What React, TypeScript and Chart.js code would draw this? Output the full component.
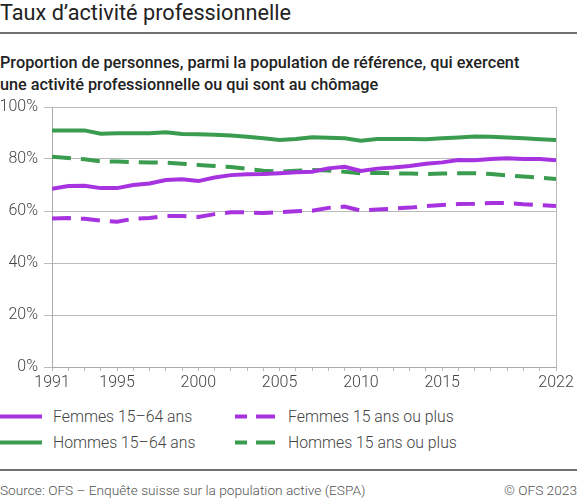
import React, { useEffect, useRef } from 'react'
import { Chart, registerables } from 'chart.js'

Chart.register(...registerables)
Chart.defaults.font.family = "Roboto, 'Noto Sans', sans-serif"

// years and values (percent)
const years = [1991, 1992, 1993, 1994, 1995, 1996, 1997, 1998, 1999, 2000, 2001, 2002, 2003, 2004, 2005, 2006,
    2007, 2008, 2009, 2010, 2011, 2012, 2013, 2014, 2015, 2016, 2017, 2018, 2019, 2020, 2021, 2022]
const labelYears = [1991, 1995, 2000, 2005, 2010, 2015, 2022]

const femmes1564 = [68.5, 69.6, 69.7, 68.8, 68.8, 70.0, 70.6, 71.9, 72.2, 71.5, 72.9, 73.8, 74.1, 74.2, 74.5, 74.9,
    75.1, 76.4, 77.0, 75.4, 76.3, 76.7, 77.3, 78.2, 78.7, 79.6, 79.5, 80.0, 80.3, 80.0, 80.0, 79.5]
const hommes1564 = [91.0, 91.0, 91.0, 89.7, 89.9, 89.9, 89.9, 90.3, 89.6, 89.5, 89.3, 89.0, 88.6, 88.0, 87.3, 87.7,
    88.4, 88.2, 88.0, 87.0, 87.7, 87.7, 87.7, 87.6, 88.0, 88.3, 88.7, 88.6, 88.3, 88.0, 87.6, 87.3]
const femmes15plus = [57.1, 57.3, 57.0, 56.3, 55.9, 57.0, 57.3, 58.1, 58.1, 57.7, 58.8, 59.5, 59.5, 59.2, 59.5, 59.9,
    60.1, 61.2, 61.7, 60.1, 60.6, 60.9, 61.3, 61.9, 62.3, 62.7, 62.8, 63.1, 63.1, 62.6, 62.3, 61.9]
const hommes15plus = [80.9, 80.4, 79.9, 79.1, 79.0, 78.8, 78.7, 78.6, 78.2, 77.7, 77.3, 76.9, 76.2, 75.5, 75.1, 75.5,
    75.8, 75.6, 75.1, 74.5, 74.7, 74.5, 74.4, 74.2, 74.4, 74.5, 74.5, 74.2, 73.7, 73.3, 72.8, 72.3]

const yTicks = [0, 20, 40, 60, 80, 100]

const PURPLE = '#a633df'
const GREEN = '#3a9c4e'
const DASH = [19, 10]

const toPoints = (vals: number[]) => years.map((yr, i) => ({ x: yr, y: vals[i] }))

const series = [
    { label: 'Femmes 15–64 ans', data: femmes1564, color: PURPLE, dashed: false },
    { label: 'Femmes 15 ans ou plus', data: femmes15plus, color: PURPLE, dashed: true },
    { label: 'Hommes 15–64 ans', data: hommes1564, color: GREEN, dashed: false },
    { label: 'Hommes 15 ans ou plus', data: hommes15plus, color: GREEN, dashed: true },
]

const LegendItem = ({ s }: { s: any }) => (
    <div style={{ display: 'flex', alignItems: 'center', height: 26 }}>
        <svg width={42} height={5} style={{ display: 'block' }}>
            <line x1={0} y1={2.5} x2={42} y2={2.5} stroke={s.color} strokeWidth={4}
                strokeDasharray={s.dashed ? '19 9' : undefined} strokeDashoffset={s.dashed ? 7 : undefined} />
        </svg>
        <span style={{ marginLeft: 11, fontSize: 15.8, fontWeight: 300, color: '#444' }}>{s.label}</span>
    </div>
)

const App: React.FunctionComponent = () => {
    const chartRef = useRef<HTMLCanvasElement>(null)

    useEffect(() => {
        const ctx = chartRef.current!.getContext('2d') as CanvasRenderingContext2D
        const chart = new Chart(ctx, {
            type: 'line',
            data: {
                datasets: series.map((s) => ({
                    label: s.label,
                    data: toPoints(s.data),
                    borderColor: s.color,
                    backgroundColor: s.color,
                    borderWidth: 4,
                    borderDash: s.dashed ? DASH : [],
                    borderCapStyle: 'butt',
                    pointRadius: 0,
                    tension: 0,
                })),
            },
            options: {
                animation: false,
                responsive: true,
                maintainAspectRatio: false,
                layout: { padding: { top: 17, right: 21, left: 0, bottom: 0 } },
                plugins: {
                    legend: { display: false },
                    tooltip: { enabled: false },
                },
                scales: {
                    x: {
                        type: 'linear',
                        min: 1991,
                        max: 2022,
                        afterBuildTicks: (scale: any) => {
                            scale.ticks = years.map((v) => ({ value: v }))
                        },
                        afterFit: (scale: any) => {
                            scale.height = 33
                        },
                        ticks: {
                            autoSkip: false,
                            maxRotation: 0,
                            padding: 2,
                            color: '#444',
                            font: { size: 16, weight: 300 },
                            callback: (v: any) => (labelYears.includes(v) ? String(v) : ''),
                        },
                        grid: {
                            color: (c: any) => (c.tick && c.tick.value === 2022 ? '#bbb' : 'rgba(0,0,0,0)'),
                            tickColor: '#bbb',
                            tickLength: 4,
                        },
                        border: { display: true, color: '#aaa' },
                    },
                    y: {
                        min: 0,
                        max: 100,
                        afterBuildTicks: (scale: any) => {
                            scale.ticks = yTicks.map((v) => ({ value: v }))
                        },
                        afterFit: (scale: any) => {
                            scale.width = 52
                        },
                        ticks: {
                            padding: 6,
                            color: '#444',
                            font: { size: 16, weight: 300 },
                            callback: (v: any) => v + '%',
                        },
                        grid: {
                            color: '#bbb',
                            tickColor: '#bbb',
                            tickLength: 8,
                        },
                        border: { display: true, color: '#aaa' },
                    },
                },
            },
        } as any)

        return () => {
            chart.destroy()
        }
    }, [])

    return (
        <div style={{ position: 'absolute', left: 0, top: 0, width: 577, height: 498, background: '#fff', fontFamily: "Roboto, 'Noto Sans', sans-serif", overflow: 'hidden' }}>
            <div style={{ position: 'absolute', left: 0, top: 0, fontSize: 21.7, lineHeight: '26px', color: '#222', whiteSpace: 'nowrap' }}>
                Taux d’activité professionnelle
            </div>
            <div style={{ position: 'absolute', left: 0, top: 32, width: 577, height: 2, background: '#707070' }} />
            <div style={{ position: 'absolute', left: 0, top: 52, fontSize: 16.25, fontWeight: 500, lineHeight: '22px', color: '#222', whiteSpace: 'nowrap' }}>
                Proportion de personnes, parmi la population de référence, qui exercent<br />
                une activité professionnelle ou qui sont au chômage
            </div>
            <div style={{ position: 'absolute', left: 0, top: 90, width: 577, height: 310 }}>
                <canvas ref={chartRef}></canvas>
            </div>
            <div style={{ position: 'absolute', left: 0, top: 403 }}>
                <LegendItem s={series[0]} />
                <LegendItem s={series[2]} />
            </div>
            <div style={{ position: 'absolute', left: 235, top: 403 }}>
                <LegendItem s={series[1]} />
                <LegendItem s={series[3]} />
            </div>
            <div style={{ position: 'absolute', left: 0, top: 469, width: 577, height: 2, background: '#707070' }} />
            <div style={{ position: 'absolute', left: 0, top: 481, width: 577, fontSize: 13.7, fontWeight: 300, lineHeight: '18px', color: '#555', display: 'flex', justifyContent: 'space-between', whiteSpace: 'nowrap' }}>
                <span>Source: OFS – Enquête suisse sur la population active (ESPA)</span>
                <span>© OFS 2023</span>
            </div>
        </div>
    )
}

export default App
